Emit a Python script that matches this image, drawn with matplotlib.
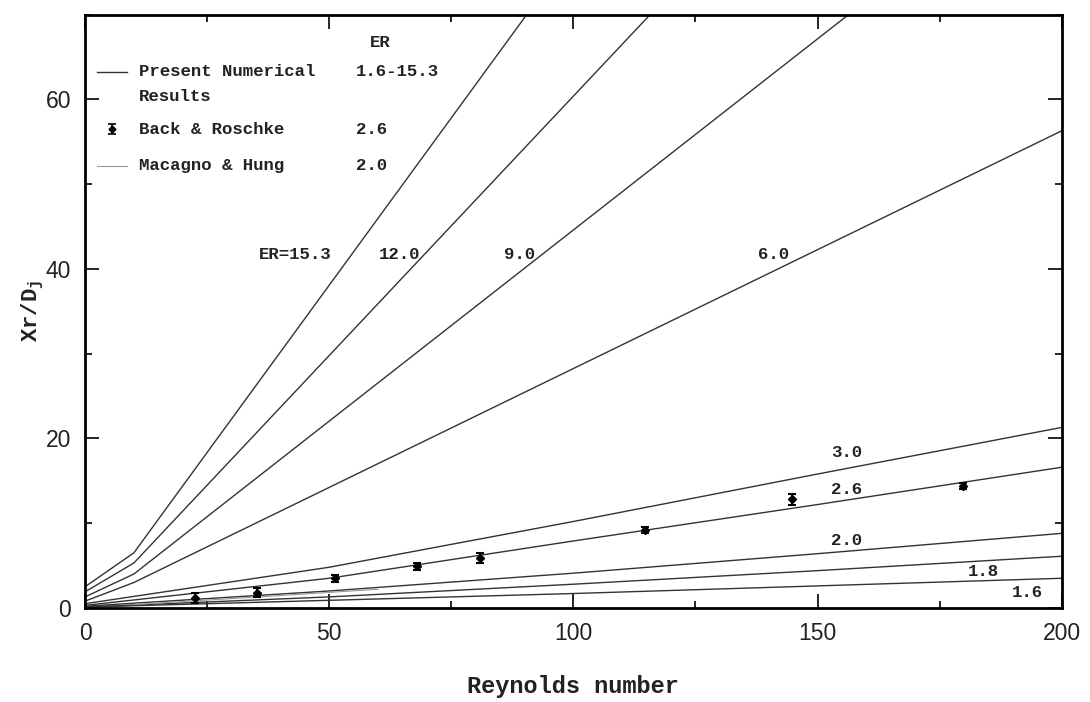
import matplotlib
matplotlib.use("Agg")
import matplotlib.pyplot as plt
from matplotlib.ticker import MultipleLocator

plt.rcParams['mathtext.fontset'] = 'custom'
plt.rcParams['mathtext.rm'] = 'Liberation Mono:bold'
plt.rcParams['mathtext.default'] = 'regular'

# ---- data ----
er_labels = ["15.3", "12.0", "9.0", "6.0", "3.0", "2.6", "2.0", "1.8", "1.6"]
re_upper = [0, 10, 200]
er153 = [2.5, 6.5, 156.5]
er120 = [1.9, 5.3, 121.6]
er90 = [1.3, 4.0, 89.7]
er60 = [0.8, 3.0, 56.3]

re_lower = [0, 50, 100, 150, 200]
er30 = [0.5, 4.8, 10.2, 15.8, 21.3]
er26 = [0.3, 3.5, 7.9, 12.2, 16.6]
er20 = [0.2, 2.0, 4.1, 6.4, 8.8]
er18 = [0.1, 1.3, 2.8, 4.4, 6.1]
er16 = [0.1, 0.9, 1.7, 2.6, 3.5]

# Back & Roschke (ER = 2.6)
br_re = [22.5, 35.2, 51.2, 68.0, 80.9, 114.6, 144.7, 179.7]
br_xr = [1.2, 1.8, 3.5, 4.9, 5.9, 9.2, 12.8, 14.4]
br_err = [0.6, 0.5, 0.4, 0.4, 0.6, 0.4, 0.6, 0.4]

# Macagno & Hung (ER = 2.0)
mh_re = [10, 30, 60]
mh_xr = [0.4, 1.1, 2.2]

mono = 'Liberation Mono'
fig = plt.figure(figsize=(10.9, 7.02), dpi=100)
ax = fig.add_axes([0.078, 0.134, 0.896, 0.845])

lc = '#333333'
for ys in [er153, er120, er90, er60]:
    ax.plot(re_upper, ys, color=lc, lw=1.0)
for ys in [er30, er26, er20, er18, er16]:
    ax.plot(re_lower, ys, color=lc, lw=1.0)
ax.plot(mh_re, mh_xr, color='#999999', lw=0.8)
ax.errorbar(br_re, br_xr, yerr=br_err, fmt='D', ms=4, color='black',
            ecolor='black', elinewidth=1.5, capsize=3, capthick=1.5)

ax.set_xlim(0, 200)
ax.set_ylim(0, 70)
ax.xaxis.set_major_locator(MultipleLocator(50))
ax.xaxis.set_minor_locator(MultipleLocator(25))
ax.yaxis.set_major_locator(MultipleLocator(20))
ax.yaxis.set_minor_locator(MultipleLocator(10))
ax.tick_params(which='both', direction='in', top=True, right=True,
               labelsize=16.5, pad=10, width=1.2)
ax.tick_params(which='major', length=10)
ax.tick_params(which='minor', length=5)
for s in ax.spines.values():
    s.set_linewidth(2)
for lab in ax.get_xticklabels() + ax.get_yticklabels():
    lab.set_fontfamily('Liberation Sans')
    lab.set_color('#222222')

ax.set_xlabel('Reynolds number', fontsize=17, family=mono, weight='bold',
              labelpad=22, color='#222222')
ax.set_ylabel('Xr/D$_j$', fontsize=16, family=mono, weight='bold',
              labelpad=0, color='#222222')

tk = dict(family=mono, weight='bold', fontsize=12.5, color='#222222')
# curve labels
ax.text(43, 41.7, 'ER=15.3', ha='center', va='center', **tk)
ax.text(64.5, 41.7, er_labels[1], ha='center', va='center', **tk)
ax.text(89, 41.7, er_labels[2], ha='center', va='center', **tk)
ax.text(141, 41.7, er_labels[3], ha='center', va='center', **tk)
ax.text(156, 18.3, er_labels[4], ha='center', va='center', **tk)
ax.text(156, 14.0, er_labels[5], ha='center', va='center', **tk)
ax.text(156, 8.0, er_labels[6], ha='center', va='center', **tk)
ax.text(184, 4.3, er_labels[7], ha='center', va='center', **tk)
ax.text(193, 1.8, er_labels[8], ha='center', va='center', **tk)

# legend drawn by hand
ax.text(60.5, 66.7, 'ER', ha='center', va='center', **tk)
ax.plot([2.5, 8.5], [63.3, 63.3], color=lc, lw=1.0)
ax.text(11, 63.3, 'Present Numerical', ha='left', va='center', **tk)
ax.text(11, 60.3, 'Results', ha='left', va='center', **tk)
ax.text(55.5, 63.3, '1.6-15.3', ha='left', va='center', **tk)
ax.errorbar([5.5], [56.5], yerr=[0.6], fmt='D', ms=3.5, color='black',
            elinewidth=1.2, capsize=3, capthick=1.2)
ax.text(11, 56.5, 'Back & Roschke', ha='left', va='center', **tk)
ax.text(55.5, 56.5, '2.6', ha='left', va='center', **tk)
ax.plot([2.5, 8.5], [52.2, 52.2], color='#999999', lw=0.8)
ax.text(11, 52.2, 'Macagno & Hung', ha='left', va='center', **tk)
ax.text(55.5, 52.2, '2.0', ha='left', va='center', **tk)

fig.savefig('out.png', dpi=100)
